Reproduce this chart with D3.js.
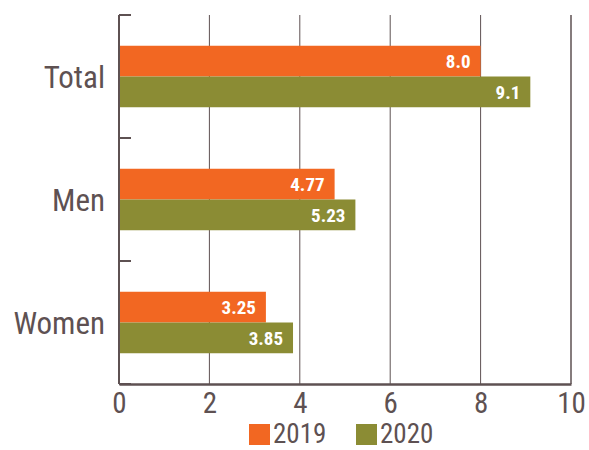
<!DOCTYPE html>
<html>
<head>
<meta charset="utf-8">
<script src="https://cdn.jsdelivr.net/npm/d3@7"></script>
<style>
  body { margin: 0; background: #fff; }
  svg text { font-family: "Roboto Condensed", "Liberation Sans Narrow", Roboto, sans-serif; }
</style>
</head>
<body>
<svg id="chart" width="589" height="450"></svg>
<script>
// data
let categories = ['Total', 'Men', 'Women']
let years = ['2019', '2020']
let values2019 = [8.0, 4.77, 3.25]
let values2020 = [9.1, 5.23, 3.85]
let labels2019 = ['8.0', '4.77', '3.25']
let labels2020 = ['9.1', '5.23', '3.85']
let xTicks = [0, 2, 4, 6, 8, 10]
let colors = ['#f26722', '#8b8c34']
let ink = '#5e5152'

let svg = d3.select('#chart')
let margin = {top: 15, right: 18, bottom: 66, left: 119}
let width = +svg.attr('width') - margin.left - margin.right
let height = +svg.attr('height') - margin.top - margin.bottom
let g = svg.append('g').attr('transform', 'translate(' + margin.left + ',' + margin.top + ')')

let x = d3.scaleLinear().domain([0, 10]).range([0, width])
let y = d3.scaleBand().domain(categories).range([0, height]).paddingInner(0).paddingOuter(0)
let yIn = d3.scaleBand().domain(years).range([y.bandwidth() * 0.25, y.bandwidth() * 0.75])

// vertical grid lines
g.append('g')
  .selectAll('line')
  .data(xTicks.slice(1))
  .join('line')
  .attr('x1', d => x(d)).attr('x2', d => x(d))
  .attr('y1', 0).attr('y2', height)
  .attr('stroke', ink).attr('stroke-width', d => d == 10 ? 1.5 : 1)

let rows = categories.map((c, i) => ({cat: c, vals: [values2019[i], values2020[i]], labs: [labels2019[i], labels2020[i]]}))

let grp = g.selectAll('g.cat')
  .data(rows)
  .join('g')
  .attr('class', 'cat')
  .attr('transform', d => 'translate(0,' + y(d.cat) + ')')

grp.selectAll('rect')
  .data(d => d.vals.map((v, j) => ({v: v, year: years[j], lab: d.labs[j]})))
  .join('rect')
  .attr('x', x(0))
  .attr('y', d => yIn(d.year))
  .attr('width', d => x(d.v) - x(0))
  .attr('height', yIn.bandwidth())
  .attr('fill', (d, j) => colors[j])

grp.selectAll('text.val')
  .data(d => d.vals.map((v, j) => ({v: v, year: years[j], lab: d.labs[j]})))
  .join('text')
  .attr('class', 'val')
  .attr('x', d => x(d.v) - 10)
  .attr('y', d => yIn(d.year) + yIn.bandwidth() / 2)
  .attr('dy', '0.36em')
  .attr('text-anchor', 'end')
  .attr('fill', '#fff')
  .attr('font-weight', 'bold')
  .attr('font-size', 19)
  .text(d => d.lab)

// left axis: ticks on band edges pointing inwards
let yAx = g.append('g')
yAx.append('line')
  .attr('x1', 0).attr('x2', 0).attr('y1', 0).attr('y2', height)
  .attr('stroke', ink).attr('stroke-width', 2)
yAx.selectAll('line.tk')
  .data(categories.map(c => y(c)).concat([height]))
  .join('line')
  .attr('class', 'tk')
  .attr('x1', 0).attr('x2', 12)
  .attr('y1', d => d).attr('y2', d => d)
  .attr('stroke', ink).attr('stroke-width', 2)
yAx.selectAll('text')
  .data(categories)
  .join('text')
  .attr('x', -14)
  .attr('y', d => y(d) + y.bandwidth() / 2)
  .attr('dy', '0.36em')
  .attr('text-anchor', 'end')
  .attr('fill', ink)
  .attr('font-size', 31)
  .text(d => d)

// bottom axis
let xAx = g.append('g')
  .attr('transform', 'translate(0,' + height + ')')
  .call(d3.axisBottom(x).tickValues(xTicks).tickSize(0).tickPadding(8))
xAx.select('.domain').attr('stroke', ink).attr('stroke-width', 2.5)
xAx.selectAll('text').attr('fill', ink).attr('font-size', 29)
  .attr('font-family', '"Roboto Condensed", "Liberation Sans Narrow", Roboto, sans-serif')

// legend
let legend = svg.append('g').attr('transform', 'translate(249,424)')
let items = legend.selectAll('g')
  .data(years)
  .join('g')
  .attr('transform', (d, i) => 'translate(' + i * 107 + ',0)')
items.append('rect')
  .attr('width', 21).attr('height', 21)
  .attr('fill', (d, i) => colors[i])
items.append('text')
  .attr('x', 24).attr('y', 19)
  .attr('fill', ink)
  .attr('font-size', 27)
  .text(d => d)
</script>
</body>
</html>
